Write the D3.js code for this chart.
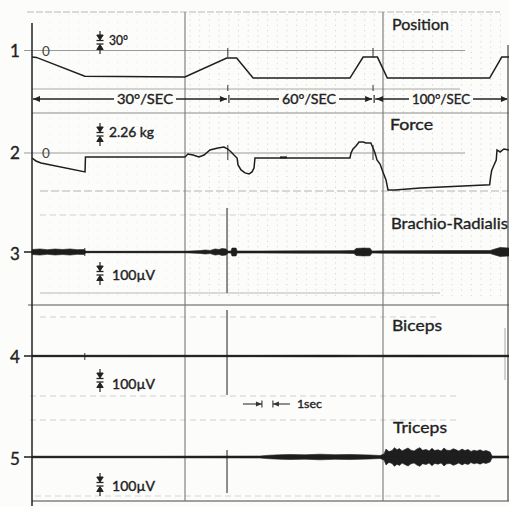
<!DOCTYPE html>
<html>
<head>
<meta charset="utf-8">
<script src="https://cdn.jsdelivr.net/npm/d3@7"></script>
<style>
  html, body { margin: 0; padding: 0; background: #fcfcfa; }
  svg { display: block; }
  text { font-family: Lato, "Open Sans", sans-serif; fill: #222; stroke: #222; stroke-width: 0.35; }
</style>
</head>
<body>
<svg id="chart" width="509" height="506"></svg>
<script>
// ---- Recording data (time in seconds) ----
const positionTime = [0, 0.4, 4.8, 13.9, 17.7, 18.6, 20.1, 28.9, 30.1, 31.4, 32.3, 41.6, 42.7, 43.4];
const positionDeg  = [-11, -11.5, -43, -44, -12.5, -12.5, -46, -46, -11, -11, -46, -46, -11, -11];

const forceTime = [0, 0.36, 0.82, 4.82, 4.86, 13.9, 14.18, 14.64, 15.18, 15.64, 16.18, 16.9, 17.45, 17.8, 18.1, 18.36, 18.64, 18.73, 19.0, 19.36, 19.73, 20.0, 20.18, 20.27, 28.9, 29.0, 29.18, 29.45, 29.73, 30.1, 30.36, 30.8, 31.0, 31.18, 31.36, 31.64, 31.9, 32.18, 32.36, 33.0, 35.3, 41.6, 41.7, 41.8, 42.0, 42.2, 42.27, 42.55, 42.9, 43.36];
const forceKg   = [-0.63, -1.0, -1.25, -2.38, -0.5, -0.5, -0.13, -0.25, -0.5, -0.25, 0.38, 0.63, 0.75, 0.5, 0.13, -0.25, -0.63, -1.5, -2.13, -2.5, -2.63, -2.38, -1.88, -0.63, -0.63, 0, 0.5, 0.88, 1.38, 1.38, 1.25, 1.25, 0.63, 0, -0.88, -1.38, -2.38, -3.38, -4.63, -4.63, -4.38, -4.0, -2.88, -2.13, -1.5, -0.88, 0.38, 0.13, 0.5, 0.38];

// EMG envelopes: [time s, half amplitude µV]
const brachioEnv = [[0,14],[0.73,17],[1.4,13],[2.09,16.5],[2.8,14],[3.45,17],[4.1,13],[4.73,14],[4.91,4],[8.0,4],[11.64,4.5],[13.91,4.5],[14.82,6.5],[15.3,8],[15.73,11],[16.2,9],[16.64,17],[17.0,14],[17.27,19.5],[17.64,17],[17.82,5.5],[18.09,5.5],[18.18,22],[18.55,22],[18.64,5.5],[20.73,5.5],[24.36,6.5],[28.0,7],[29.27,8.5],[29.45,19.5],[30.1,22],[30.73,21],[30.91,5.5],[31.91,6.5],[38.0,8],[41.64,8.5],[42.09,17],[42.55,25],[43.36,22]];
const bicepsEnv  = [[0,4],[10,4.5],[20,4],[27,5],[30,4.5],[35,5],[43.36,4.5]];
const tricepsEnv = [[0,4.5],[10.73,4.5],[20.73,5.5],[21.64,10],[22.5,12],[23.45,14],[24.8,12],[26.18,15.5],[27.5,13],[28.91,14],[30.73,11],[31.64,8.5],[32.0,17],[32.18,44],[32.45,30],[32.73,36],[32.95,52],[33.18,40],[33.4,47],[33.64,34],[33.9,42],[34.18,50],[34.45,38],[34.73,33],[35.0,45],[35.27,52],[35.5,37],[35.82,42],[36.1,34],[36.36,48],[36.6,36],[36.91,40],[37.2,33],[37.45,50],[37.7,38],[38.0,36],[38.3,46],[38.55,40],[38.8,33],[39.09,44],[39.35,36],[39.64,42],[39.9,31],[40.18,38],[40.45,33],[40.73,40],[41.0,32],[41.27,36],[41.64,28],[41.82,5.5],[43.36,5.5]];

const channelNumbers = ["1", "2", "3", "4", "5"];
const channelTitles  = ["Position", "Force", "Brachio-Radialis", "Biceps", "Triceps"];
const scaleLabels    = ["30°", "2.26 kg", "100µV", "100µV", "100µV"];
const speedLabels    = ["30°/SEC", "60°/SEC", "100°/SEC"];
const speedBounds    = [0, 17.9, 31.1, 43.36];
const timeMarkLabel  = "1sec";
const eventTimes     = [17.8, 31.0];

// ---- Layout ----
const svg = d3.select("#chart");
const x = d3.scaleLinear().domain([0, 43.36]).range([32, 509]);
const base = [50.5, 153, 252, 356, 457];         // channel baselines
const yPos = d3.scaleLinear().domain([0, 30]).range([base[0], base[0] - 18]);
const yForce = d3.scaleLinear().domain([0, 2.26]).range([base[1], base[1] - 18]);
const uv = d3.scaleLinear().domain([0, 100]).range([0, 18]);

const dark = "#1e1e1e";

// background dotted chart paper
svg.append("g").selectAll("line").data(d3.range(190, 506, 9.7)).join("line")
  .attr("x1", d => d).attr("x2", d => d).attr("y1", 14).attr("y2", 300)
  .attr("stroke", "#d6d6d6").attr("stroke-width", 1).attr("stroke-dasharray", "1.2,4.2");
svg.append("g").selectAll("line").data(d3.range(40, 180, 9.7)).join("line")
  .attr("x1", d => d).attr("x2", d => d).attr("y1", 14).attr("y2", 300)
  .attr("stroke", "#e6e6e6").attr("stroke-width", 1).attr("stroke-dasharray", "1,7");

// horizontal chart-paper lines
const hLines = [
  {y: 12, x1: 27, x2: 500, c: "#b8b8b8", d: "7,2"},
  {y: 50.5, x1: 24, x2: 465, c: "#9a9a9a", d: null},
  {y: 89, x1: 32, x2: 460, c: "#a8a8a8", d: null},
  {y: 113, x1: 32, x2: 509, c: "#8c8c8c", d: null},
  {y: 153, x1: 24, x2: 465, c: "#9a9a9a", d: null},
  {y: 191, x1: 40, x2: 509, c: "#b4b4b4", d: "8,3"},
  {y: 215, x1: 40, x2: 460, c: "#d0d0d0", d: "6,4"},
  {y: 293, x1: 40, x2: 440, c: "#b8b8b8", d: null},
  {y: 305, x1: 28, x2: 509, c: "#555", d: null},
  {y: 317, x1: 40, x2: 440, c: "#cfcfcf", d: "6,4"},
  {y: 396, x1: 30, x2: 460, c: "#cfcfcf", d: "6,4"},
  {y: 420, x1: 30, x2: 460, c: "#cfcfcf", d: "6,4"},
  {y: 496, x1: 35, x2: 440, c: "#d4d4d4", d: "6,4"},
  {y: 501, x1: 32, x2: 509, c: "#444", d: null}
];
svg.append("g").selectAll("line").data(hLines).join("line")
  .attr("x1", d => d.x1).attr("x2", d => d.x2).attr("y1", d => d.y).attr("y2", d => d.y)
  .attr("stroke", d => d.c).attr("stroke-width", 1.2)
  .attr("stroke-dasharray", d => d.d);

// vertical lines
const vLines = [
  {x: 185, y1: 12, y2: 501, c: "#777", w: 1.1},
  {x: 383, y1: 12, y2: 501, c: "#777", w: 1.1},
  {x: 32, y1: 23, y2: 506, c: "#222", w: 1.5},
  {x: 508, y1: 45, y2: 501, c: "#555", w: 1.3},
  {x: 505, y1: 328, y2: 380, c: "#aaa", w: 1}
];
svg.append("g").selectAll("line").data(vLines).join("line")
  .attr("x1", d => d.x).attr("x2", d => d.x).attr("y1", d => d.y1).attr("y2", d => d.y2)
  .attr("stroke", d => d.c).attr("stroke-width", d => d.w);

// event marker lines through EMG channels
const evX = x(eventTimes[0]) - 0.8;
[[208, 293], [310, 395], [450, 493]].forEach(([a, b]) => {
  svg.append("line").attr("x1", evX).attr("x2", evX).attr("y1", a).attr("y2", b)
    .attr("stroke", "#333").attr("stroke-width", 1.1);
});
// small event ticks on position and force channels
eventTimes.forEach(t => {
  [[48, 57], [85, 91], [145, 160]].forEach(([a, b]) => {
    svg.append("line").attr("x1", x(t)).attr("x2", x(t)).attr("y1", a).attr("y2", b)
      .attr("stroke", "#333").attr("stroke-width", 1);
  });
});
// ticks at start of first ramp
[[248, 256], [353, 360]].forEach(([a, b]) => {
  svg.append("line").attr("x1", x(4.8)).attr("x2", x(4.8)).attr("y1", a).attr("y2", b)
    .attr("stroke", "#333").attr("stroke-width", 1);
});

// ---- Traces ----
const posData = positionTime.map((t, i) => [t, positionDeg[i]]);
svg.append("path").datum(posData)
  .attr("d", d3.line().x(d => x(d[0])).y(d => yPos(d[1])))
  .attr("fill", "none").attr("stroke", dark).attr("stroke-width", 1.5);

const forceData = forceTime.map((t, i) => [t, forceKg[i]]);
svg.append("path").datum(forceData)
  .attr("d", d3.line().x(d => x(d[0])).y(d => yForce(d[1])))
  .attr("fill", "none").attr("stroke", dark).attr("stroke-width", 1.5);
// pen mark on the flat force segment
svg.append("line").attr("x1", 280).attr("x2", 287).attr("y1", yForce(-0.55)).attr("y2", yForce(-0.55))
  .attr("stroke", dark).attr("stroke-width", 2);

function emg(env, b) {
  svg.append("path").datum(env)
    .attr("d", d3.area().x(d => x(d[0])).y0(d => b + uv(d[1])).y1(d => b - uv(d[1])))
    .attr("fill", dark).attr("stroke", dark).attr("stroke-width", 0.6);
  svg.append("line").attr("x1", 24).attr("x2", 509).attr("y1", b).attr("y2", b)
    .attr("stroke", dark).attr("stroke-width", 1.5);
}
emg(brachioEnv, base[2]);
emg(bicepsEnv, base[3]);
emg(tricepsEnv, base[4]);

// ---- Text ----
const numY = [57, 159, 260, 363, 465];
svg.append("g").selectAll("text").data(channelNumbers).join("text")
  .attr("x", 15).attr("y", (d, i) => numY[i]).attr("text-anchor", "middle")
  .attr("font-size", 17).text(d => d);

const titlePos = [
  {x: 392, y: 30, w: 57}, {x: 390, y: 130, w: 43}, {x: 391, y: 229, w: 117},
  {x: 392, y: 331, w: 50}, {x: 393, y: 433, w: 54}
];
svg.append("g").selectAll("text").data(channelTitles).join("text")
  .attr("x", (d, i) => titlePos[i].x).attr("y", (d, i) => titlePos[i].y)
  .attr("font-size", 16).attr("textLength", (d, i) => titlePos[i].w)
  .attr("lengthAdjust", "spacingAndGlyphs").text(d => d);

// zero labels
[base[0], base[1]].forEach(b => {
  svg.append("text").attr("x", 42).attr("y", b + 5).attr("font-size", 13.5)
    .style("fill", "#444").style("stroke", "none").text("0");
});

// scale symbols and labels
const symTop = [31, 123, 262, 369, 473];
const labelPos = [
  {x: 109, y: 45, w: 19}, {x: 109, y: 137, w: 45}, {x: 112, y: 280, w: 43},
  {x: 112, y: 389, w: 43}, {x: 112, y: 491, w: 43}
];
symTop.forEach((t0, i) => {
  const g = svg.append("g").attr("stroke", "#222").attr("fill", "#222");
  const cx = 100;
  g.append("line").attr("x1", cx).attr("x2", cx).attr("y1", t0).attr("y2", t0 + 8).attr("stroke-width", 1.2);
  g.append("path").attr("d", `M${cx - 3.2},${t0 + 4} L${cx + 3.2},${t0 + 4} L${cx},${t0 + 9} Z`);
  g.append("line").attr("x1", cx - 3.5).attr("x2", cx + 3.5).attr("y1", t0 + 9.5).attr("y2", t0 + 9.5).attr("stroke-width", 1.3);
  g.append("line").attr("x1", cx - 3.5).attr("x2", cx + 3.5).attr("y1", t0 + 13).attr("y2", t0 + 13).attr("stroke-width", 1.3);
  g.append("path").attr("d", `M${cx - 3.2},${t0 + 18.5} L${cx + 3.2},${t0 + 18.5} L${cx},${t0 + 13.5} Z`);
  g.append("line").attr("x1", cx).attr("x2", cx).attr("y1", t0 + 14).attr("y2", t0 + 23).attr("stroke-width", 1.2);
  svg.append("text").attr("x", labelPos[i].x).attr("y", labelPos[i].y)
    .attr("font-size", 12.5).attr("textLength", labelPos[i].w)
    .attr("lengthAdjust", "spacingAndGlyphs").text(scaleLabels[i]);
});

// speed bands
const rowY = 99;
const speedText = [{x: 117, w: 56}, {x: 282, w: 54}, {x: 412, w: 58}];
const rowG = svg.append("g").attr("stroke", "#222").attr("fill", "#222");
function seg(a, b) { rowG.append("line").attr("x1", a).attr("x2", b).attr("y1", rowY).attr("y2", rowY).attr("stroke-width", 1.3); }
function headR(xx) { rowG.append("path").attr("d", `M${xx - 7},${rowY - 3} L${xx},${rowY} L${xx - 7},${rowY + 3} Z`).attr("stroke", "none"); }
function headL(xx) { rowG.append("path").attr("d", `M${xx + 7},${rowY - 3} L${xx},${rowY} L${xx + 7},${rowY + 3} Z`).attr("stroke", "none"); }
function bar(xx) { rowG.append("line").attr("x1", xx).attr("x2", xx).attr("y1", rowY - 4).attr("y2", rowY + 4).attr("stroke-width", 1.1); }
speedLabels.forEach((s, i) => {
  const a = x(speedBounds[i]), b = x(speedBounds[i + 1]);
  const tx = speedText[i];
  seg(a + 1, tx.x - 3);
  seg(tx.x + tx.w + 3, b - 2);
  svg.append("text").attr("x", tx.x).attr("y", rowY + 5).attr("font-size", 13)
    .attr("textLength", tx.w).attr("lengthAdjust", "spacingAndGlyphs").text(s);
});
headL(x(speedBounds[0]) + 1);
headR(x(speedBounds[1]) - 2); bar(x(speedBounds[1]));
headR(x(speedBounds[2]) - 2); bar(x(speedBounds[2])); headL(x(speedBounds[2]) + 2);
headR(x(speedBounds[3]) - 1);

// 1 second marker
const mY = 404;
const m0 = x(20.9), m1 = x(21.9);
const mg = svg.append("g").attr("stroke", "#333").attr("fill", "#333");
mg.append("line").attr("x1", m0 - 19).attr("x2", m0).attr("y1", mY).attr("y2", mY).attr("stroke-width", 1.1);
mg.append("path").attr("d", `M${m0 - 6},${mY - 2.6} L${m0},${mY} L${m0 - 6},${mY + 2.6} Z`).attr("stroke", "none");
mg.append("line").attr("x1", m0).attr("x2", m0).attr("y1", mY - 3.5).attr("y2", mY + 3.5).attr("stroke-width", 1.1);
mg.append("line").attr("x1", m1).attr("x2", m1 + 17).attr("y1", mY).attr("y2", mY).attr("stroke-width", 1.1);
mg.append("path").attr("d", `M${m1 + 6},${mY - 2.6} L${m1},${mY} L${m1 + 6},${mY + 2.6} Z`).attr("stroke", "none");
mg.append("line").attr("x1", m1).attr("x2", m1).attr("y1", mY - 3.5).attr("y2", mY + 3.5).attr("stroke-width", 1.1);
svg.append("text").attr("x", m1 + 24).attr("y", mY + 4).attr("font-size", 11.5)
  .attr("textLength", 25).attr("lengthAdjust", "spacingAndGlyphs").text(timeMarkLabel);
</script>
</body>
</html>
